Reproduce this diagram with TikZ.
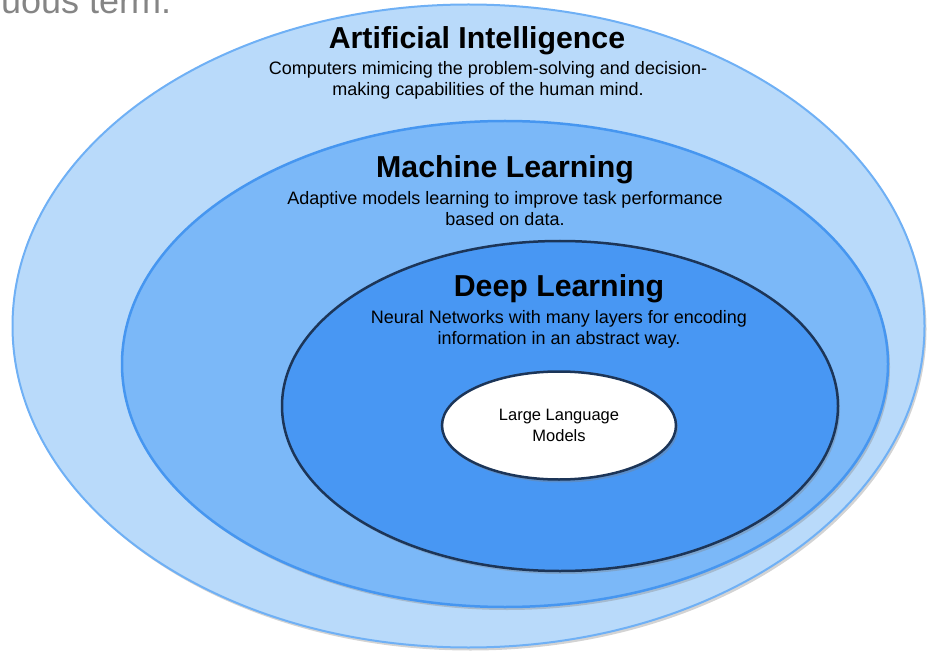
\documentclass[tikz,border=0pt]{standalone}
\usepackage{fontspec}
\setmainfont{Liberation Sans}
\usetikzlibrary{shapes.geometric,shadows}
\definecolor{aifill}{HTML}{B9DAFA}
\definecolor{aiedge}{HTML}{6FB0F5}
\definecolor{mlfill}{HTML}{7BB8F8}
\definecolor{mledge}{HTML}{4696F0}
\definecolor{dlfill}{HTML}{4897F3}
\definecolor{dledge}{HTML}{1C3558}
\definecolor{headgray}{HTML}{858585}
\tikzset{
  blob/.style={ellipse, inner sep=0pt,
    drop shadow={shadow xshift=2pt, shadow yshift=-3pt, opacity=0.35}},
  head/.style={font=\bfseries\fontsize{30.3}{33}\selectfont, inner sep=0pt},
  desc/.style={font=\fontsize{18}{21}\selectfont, align=center, inner sep=0pt}
}
\begin{document}
\begin{tikzpicture}[x=1pt,y=-1pt]
                \useasboundingbox (0,0) rectangle (934,652);
                
                % Leftover line of the slide above
                \node (topline) [anchor=base west, inner sep=0pt, text=headgray,
                  font=\fontsize{36}{40}\selectfont] at (1,14) {uous term.};
                
                % Drawing ellipse AI
                \node (ai) [blob, draw=aiedge, fill=aifill, line width=2pt,
                  minimum width=912pt, minimum height=643pt] at (468.5,326) {};
                
                % Drawing ellipse ML
                \node (ml) [blob, draw=mledge, fill=mlfill, line width=2.5pt,
                  minimum width=766pt, minimum height=486pt] at (505,364) {};
                
                % Drawing ellipse DL
                \node (dl) [blob, draw=dledge, fill=dlfill, line width=2.5pt,
                  minimum width=556pt, minimum height=330pt] at (560,406) {};
                
                % Drawing ellipse LLM
                \node (llm) [blob, draw=dledge, fill=white, line width=2.5pt,
                  minimum width=234pt, minimum height=108pt] at (559,425.5) {};
                
                % Labels of AI
                \node (aihead) [head] at (477,41) {Artificial Intelligence};
                \node (aitext) [desc] at (488,80) {Computers mimicing the problem-solving and decision-\\making capabilities of the human mind.};
                
                % Labels of ML
                \node (mlhead) [head] at (505,170) {Machine Learning};
                \node (mltext) [desc] at (505,208.5) {Adaptive models learning to improve task performance\\based on data.};
                
                % Labels of DL
                \node (dlhead) [head] at (559,289) {Deep Learning};
                \node (dltext) [desc] at (559,329) {Neural Networks with many layers for encoding\\information in an abstract way.};
                
                % Label of LLM
                \node (llmtext) [desc, font=\fontsize{16.5}{21}\selectfont] at (llm) {Large Language\\Models};
\end{tikzpicture}
\end{document}
